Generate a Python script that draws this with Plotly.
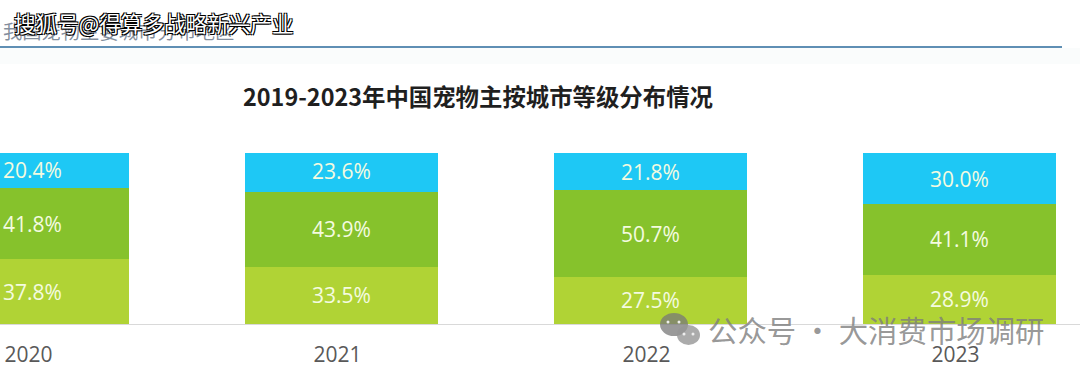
import plotly.graph_objects as go

years = ["2020", "2021", "2022", "2023"]
tier_low = [37.8, 33.5, 27.5, 28.9]
tier_mid = [41.8, 43.9, 50.7, 41.1]
tier_top = [20.4, 23.6, 21.8, 30.0]
series = [("低线城市", tier_low, "#B0D335"), ("二线城市", tier_mid, "#86C22C"), ("一线城市", tier_top, "#1EC8F5")]

W, H = 1080, 373
LABEL_FONT = "Open Sans, Noto Sans CJK SC, sans-serif"
CJK = "Noto Sans CJK SC, sans-serif"

fig = go.Figure()
for name, vals, col in series:
    fig.add_bar(x=years, y=vals, name=name, marker=dict(color=col, line=dict(width=0)),
                text=[f"{v:.1f}%" for v in vals], textposition="inside", insidetextanchor="middle",
                textangle=0, constraintext="none",
                textfont=dict(family=LABEL_FONT, size=21, color="#F4FBE0"))

def px(x): return x / W
def py(y): return 1 - y / H

shapes = [
    dict(type="rect", xref="paper", yref="paper", x0=px(0), x1=px(W), y0=py(64), y1=py(48),
         fillcolor="#FAFCFC", line_width=0, layer="below"),
    dict(type="line", xref="paper", yref="paper", x0=px(0), x1=px(1062), y0=py(47), y1=py(47),
         line=dict(color="#5F8FB4", width=2)),
]
# WeChat-style watermark icon
for x0, x1, y0, y1, c in [(660, 688, 313, 336, "rgba(120,120,120,0.75)"), (677, 700, 325, 345, "rgba(150,150,150,0.8)")]:
    shapes.append(dict(type="circle", xref="paper", yref="paper", x0=px(x0), x1=px(x1), y0=py(y1), y1=py(y0),
                       fillcolor=c, line_width=0))
for cx, cy in [(668, 322), (679, 322), (684, 334), (693, 334)]:
    shapes.append(dict(type="circle", xref="paper", yref="paper", x0=px(cx-1.5), x1=px(cx+1.5), y0=py(cy+1.5), y1=py(cy-1.5),
                       fillcolor="#EEEEEE", line_width=0))

def note(text, x, y, size, color, anchor="left", family=CJK, shadow=None):
    font = dict(family=family, size=size, color=color)
    if shadow:
        font["shadow"] = shadow
    return dict(text=text, xref="paper", yref="paper", x=px(x), y=py(y), xanchor=anchor, yanchor="middle",
                showarrow=False, font=font)

annotations = [
    note("我国宠物主要城市分布地区", 1, 31, 19.3, "rgba(90,105,125,0.75)"),
    note("<b>2019-2023年中国宠物主按城市等级分布情况</b>", 478, 95.5, 23.4, "#1F1F1F", "center"),
    note("搜狐号@得算多战略新兴产业", 12, 22, 21.6, "#FFFFFF",
         shadow="1px 1px 0 #000, -1px -1px 0 #000, 1px -1px 0 #000, -1px 1px 0 #000"),
    note("公众号 · 大消费市场调研", 706, 329, 29.4, "rgba(125,125,125,0.8)"),
]

fig.update_layout(
    width=W, height=H, autosize=False, barmode="stack", bargap=0.375, showlegend=False,
    paper_bgcolor="#FFFFFF", plot_bgcolor="#FFFFFF",
    margin=dict(l=0, r=0, t=0, b=0),
    shapes=shapes, annotations=annotations,
    xaxis=dict(type="category", range=[-32.5 / 309, (1080 - 32.5) / 309], showgrid=False, ticks="",
               showline=True, linecolor="#D9D9D9", linewidth=1, ticklabelstandoff=12, ticklabelshift=-4,
               tickfont=dict(family=LABEL_FONT, size=21, color="#595959")),
    yaxis=dict(range=[0, 100], visible=False, domain=[py(324), py(153)]),
)
fig.write_html("out.html", config={"displayModeBar": False},
               post_script="document.body.style.margin='0';document.documentElement.style.overflow='hidden';")
